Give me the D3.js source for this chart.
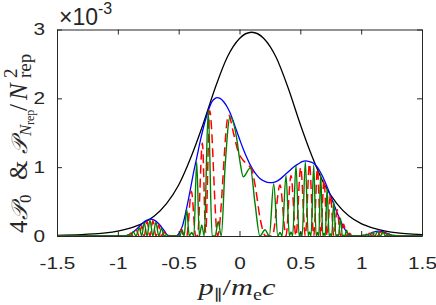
<!DOCTYPE html>
<html>
<head>
<meta charset="utf-8">
<script src="https://cdn.jsdelivr.net/npm/d3@7"></script>
<style>
  body { margin: 0; background: #fff; }
  .axis text { font-family: "Liberation Sans", Arial, sans-serif; font-size: 16px; fill: #262626; }
  .axis line, .axis path { stroke: #262626; }
  .math { font-family: "Liberation Serif", "DejaVu Serif", serif; fill: #262626; }
</style>
</head>
<body>
<svg id="chart" width="436" height="305"></svg>
<script>
// values (y in units of 1e-3)
var xTicks = [-1.5, -1, -0.5, 0, 0.5, 1, 1.5];
var yTicks = [0, 1, 2, 3];

var blackPts = [
  [-1.5, 0.01], [-1.3, 0.02], [-1.2, 0.03], [-1.1, 0.045], [-1.0, 0.072], [-0.9, 0.115],
  [-0.8, 0.18], [-0.7, 0.29], [-0.6, 0.47], [-0.5, 0.74], [-0.4, 1.14], [-0.3, 1.62],
  [-0.2, 2.15], [-0.1, 2.6], [0.0, 2.87], [0.1, 2.96], [0.2, 2.87], [0.3, 2.6],
  [0.4, 2.15], [0.5, 1.62], [0.6, 1.14], [0.7, 0.74], [0.8, 0.47], [0.9, 0.29],
  [1.0, 0.18], [1.1, 0.115], [1.2, 0.072], [1.3, 0.045], [1.4, 0.03], [1.5, 0.02]
];

var bluePts = [
  [-1.5, 0], [-0.95, 0], [-0.92, 0.01], [-0.88, 0.05], [-0.84, 0.11], [-0.8, 0.18],
  [-0.76, 0.23], [-0.735, 0.245], [-0.7, 0.23], [-0.66, 0.17], [-0.62, 0.08], [-0.59, 0.01],
  [-0.57, 0], [-0.53, 0], [-0.5, 0.03], [-0.47, 0.14], [-0.44, 0.36], [-0.41, 0.62],
  [-0.38, 0.9], [-0.35, 1.15], [-0.32, 1.4], [-0.29, 1.62], [-0.26, 1.8], [-0.23, 1.94],
  [-0.2, 2.0], [-0.185, 2.01], [-0.16, 2.0], [-0.13, 1.95], [-0.1, 1.87], [-0.075, 1.78],
  [-0.05, 1.66], [-0.02, 1.51], [0.01, 1.36], [0.034, 1.25], [0.06, 1.14], [0.089, 1.03],
  [0.115, 0.95], [0.144, 0.88], [0.17, 0.83], [0.199, 0.8], [0.23, 0.78], [0.267, 0.775],
  [0.3, 0.79], [0.336, 0.83], [0.38, 0.9], [0.418, 0.96], [0.45, 1.01], [0.486, 1.05],
  [0.515, 1.08], [0.545, 1.09], [0.575, 1.08], [0.605, 1.06], [0.635, 1.01], [0.664, 0.93],
  [0.69, 0.84], [0.719, 0.72], [0.745, 0.6], [0.774, 0.47], [0.8, 0.35], [0.829, 0.23],
  [0.855, 0.13], [0.884, 0.05], [0.91, 0.01], [0.93, 0], [1.01, 0], [1.05, 0.02],
  [1.1, 0.055], [1.144, 0.07], [1.19, 0.055], [1.23, 0.025], [1.27, 0.005], [1.3, 0], [1.5, 0]
];

var redPts = [
  [-1.5, 0], [-0.93, 0], [-0.914, 0], [-0.895, 0.04], [-0.873, 0], [-0.85, 0.09], [-0.824, 0],
  [-0.804, 0.15], [-0.783, 0], [-0.76, 0.21], [-0.736, 0], [-0.712, 0.22], [-0.687, 0],
  [-0.664, 0.16], [-0.64, 0], [-0.62, 0.06], [-0.6, 0], [-0.58, 0.01], [-0.56, 0],
  [-0.5, 0], [-0.48, 0.1], [-0.458, 0], [-0.434, 0], [-0.395, 0.65], [-0.36, 0], [-0.345, 0],
  [-0.305, 1.35], [-0.278, 0.05], [-0.245, 1.82], [-0.18, 0], [-0.09, 1.76], [-0.05, 1.5],
  [-0.01, 1.22], [0.03, 1.1], [0.07, 1.03], [0.1, 0.97], [0.13, 0.72], [0.17, 0.25],
  [0.215, 0], [0.27, 0], [0.333, 0.74], [0.382, 0], [0.423, 0.88], [0.464, 0],
  [0.503, 1.0], [0.541, 0], [0.575, 1.05], [0.61, 0], [0.641, 0.98], [0.667, 0],
  [0.695, 0.82], [0.72, 0], [0.748, 0.6], [0.775, 0], [0.803, 0.38], [0.83, 0],
  [0.856, 0.17], [0.88, 0], [0.905, 0.04], [0.93, 0],
  [0.99, 0], [1.022, 0.015], [1.045, 0], [1.067, 0.04], [1.09, 0], [1.112, 0.06],
  [1.135, 0], [1.157, 0.065], [1.18, 0], [1.2, 0.045], [1.225, 0], [1.248, 0.02],
  [1.27, 0], [1.5, 0]
];

var greenPts = [
  [-1.5, 0], [-0.93, 0], [-0.914, 0.02], [-0.895, 0], [-0.873, 0.06], [-0.85, 0],
  [-0.824, 0.12], [-0.804, 0], [-0.783, 0.19], [-0.76, 0], [-0.736, 0.23], [-0.712, 0],
  [-0.687, 0.2], [-0.664, 0], [-0.64, 0.11], [-0.62, 0], [-0.6, 0.02], [-0.58, 0],
  [-0.49, 0], [-0.472, 0.09], [-0.455, 0], [-0.434, 0.39], [-0.413, 0], [-0.393, 0.05],
  [-0.375, 0], [-0.352, 1.08], [-0.33, 0], [-0.31, 0.16], [-0.29, 0], [-0.257, 1.83],
  [-0.225, 0], [-0.2, 0], [-0.175, 0.21], [-0.15, 0], [-0.119, 0.99], [-0.078, 1.73],
  [-0.023, 1.42], [0.004, 1.08], [0.031, 0.86], [0.089, 0.99], [0.127, 0.48], [0.168, 0],
  [0.21, 0.09], [0.245, 0], [0.281, 0.76], [0.315, 0], [0.333, 0.05], [0.35, 0],
  [0.382, 0.88], [0.41, 0], [0.423, 0.06], [0.437, 0], [0.464, 1.03], [0.49, 0],
  [0.503, 0.06], [0.515, 0], [0.541, 1.08], [0.565, 0], [0.575, 0.06], [0.588, 0],
  [0.61, 1.03], [0.63, 0], [0.641, 0.05], [0.652, 0], [0.667, 0.9], [0.685, 0],
  [0.695, 0.04], [0.705, 0], [0.72, 0.7], [0.737, 0], [0.748, 0.03], [0.758, 0],
  [0.775, 0.5], [0.792, 0], [0.803, 0.02], [0.813, 0], [0.83, 0.26], [0.846, 0],
  [0.856, 0.01], [0.865, 0], [0.88, 0.085], [0.897, 0], [0.99, 0],
  [1.0, 0.008], [1.022, 0], [1.045, 0.025], [1.067, 0], [1.09, 0.05], [1.112, 0],
  [1.135, 0.065], [1.157, 0], [1.18, 0.055], [1.2, 0], [1.225, 0.035], [1.248, 0],
  [1.27, 0.012], [1.29, 0], [1.5, 0]
];

var svg = d3.select("#chart");
var mLeft = 57, mRight = 422, mTop = 29.5, mBottom = 236;
var stretch = 1.3;   // tick labels in the figure are drawn wide

var x = d3.scaleLinear().domain([-1.5, 1.5]).range([mLeft, mRight]);
var y = d3.scaleLinear().domain([0, 3]).range([mBottom, mTop]);

svg.append("defs").append("clipPath").attr("id", "clip")
   .append("rect").attr("x", mLeft).attr("y", mTop)
   .attr("width", mRight - mLeft).attr("height", mBottom - mTop);

var line = d3.line()
             .x(function(d) { return x(d[0]); })
             .y(function(d) { return y(d[1]); })
             .curve(d3.curveMonotoneX);

var plot = svg.append("g").attr("clip-path", "url(#clip)");

[
  [blackPts, "#000000", 1.3, null],
  [bluePts, "#0000ff", 1.3, null],
  [redPts, "#ff0000", 1.5, "9,5"],
  [greenPts, "#008000", 1.4, null]
].forEach(function(s) {
  plot.append("path")
      .datum(s[0])
      .attr("d", line)
      .attr("fill", "none")
      .attr("stroke", s[1])
      .attr("stroke-width", s[2])
      .attr("stroke-dasharray", s[3]);
});

// axes, ticks pointing inward
var fmt = function(d) { return String(d); };

svg.append("g").attr("class", "axis")
   .attr("transform", "translate(0," + mBottom + ")")
   .call(d3.axisBottom(x).tickValues(xTicks).tickFormat(fmt)
           .tickSizeInner(-5).tickSizeOuter(0).tickPadding(22))
   .selectAll("text").attr("transform", "scale(" + stretch + ",1)");

svg.append("g").attr("class", "axis")
   .attr("transform", "translate(0," + mTop + ")")
   .call(d3.axisTop(x).tickValues(xTicks).tickFormat("")
           .tickSizeInner(-5).tickSizeOuter(0));

svg.append("g").attr("class", "axis")
   .attr("transform", "translate(" + mLeft + ",0)")
   .call(d3.axisLeft(y).tickValues(yTicks).tickFormat(fmt)
           .tickSizeInner(-5).tickSizeOuter(0).tickPadding(12 / stretch))
   .selectAll("text").attr("transform", "scale(" + stretch + ",1)");

svg.append("g").attr("class", "axis")
   .attr("transform", "translate(" + mRight + ",0)")
   .call(d3.axisRight(y).tickValues(yTicks).tickFormat("")
           .tickSizeInner(-5).tickSizeOuter(0));

// exponent label
var ex = svg.append("text").attr("x", 59).attr("y", 25)
            .style("font-family", '"Liberation Sans", Arial, sans-serif')
            .style("font-size", "23px").style("fill", "#262626");
ex.append("tspan").text("\u00d710");
ex.append("tspan").attr("dy", -11).style("font-size", "16px").text("-3");

// math text helper: parts with shift (downwards) relative to baseline
function math(sel, parts) {
  var cur = 0;
  parts.forEach(function(p) {
    var t = sel.append("tspan").text(p.t);
    var sh = p.shift || 0;
    if (sh !== cur) t.attr("dy", sh - cur);
    cur = sh;
    if (p.x !== undefined) t.attr("x", p.x);
    if (p.dx) t.attr("dx", p.dx);
    if (p.it) t.style("font-style", "italic");
    if (p.size) t.style("font-size", p.size + "px");
  });
}

// x label, fitted to the width it takes in the figure
var xg = svg.append("g").attr("transform", "translate(237,295)");
var xl = xg.append("text").attr("class", "math")
           .attr("text-anchor", "middle").style("font-size", "24px");
math(xl, [
  {t: "p", it: true},
  {t: "\u2225", size: 15, shift: 5},
  {t: "/", shift: 0},
  {t: "m", it: true},
  {t: "e", size: 16, shift: 5},
  {t: "c", it: true, shift: 0}
]);
var xw = xl.node().getBBox().width;
xl.attr("transform", "scale(" + (80 / xw) + ",1)");

// y label, rotated, running from y=233 upward; pieces placed along it
var yg = svg.append("g").attr("transform", "translate(27,233) rotate(-90)");
var yl = yg.append("text").attr("class", "math")
           .attr("text-anchor", "start").style("font-size", "25px");
math(yl, [
  {t: "4", x: 0},
  {t: "\ud835\udcab", it: true, size: 22, x: 13},
  {t: "0", size: 17, shift: 4, x: 30},
  {t: "&", shift: 0, x: 53},
  {t: "\ud835\udcab", it: true, size: 22, x: 79},
  {t: "N", it: true, size: 17, shift: 4, x: 97},
  {t: "rep", size: 12, shift: 7, x: 108},
  {t: "/", shift: 0, x: 122},
  {t: "N", it: true, x: 133},
  {t: "2", size: 19, shift: -10, x: 155},
  {t: "rep", size: 19, shift: 4, x: 155}
]);
</script>
</body>
</html>
